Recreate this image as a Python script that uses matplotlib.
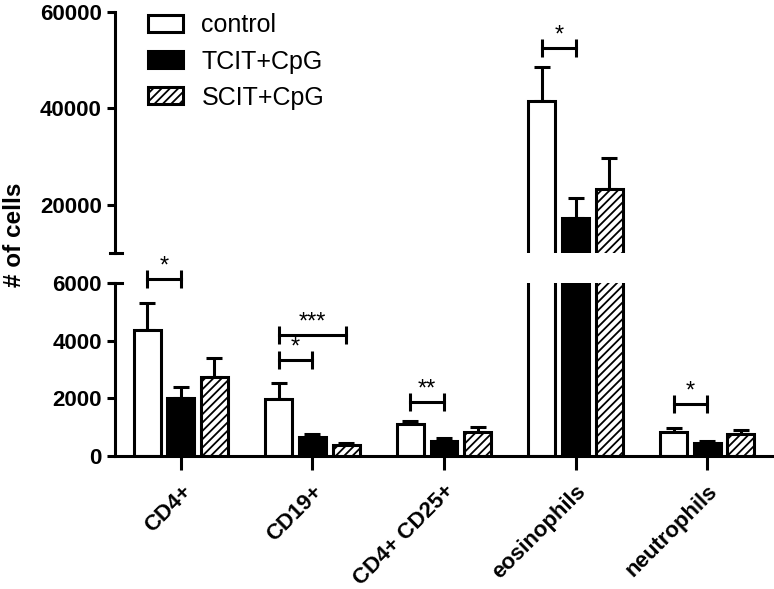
import numpy as np
import matplotlib
matplotlib.use('Agg')
import matplotlib.pyplot as plt

plt.rcParams['font.family'] = ['Liberation Sans', 'DejaVu Sans']
plt.rcParams['hatch.linewidth'] = 1.3

categories = ['CD4+', 'CD19+', 'CD4+ CD25+', 'eosinophils', 'neutrophils']
groups = ['control', 'TCIT+CpG', 'SCIT+CpG']

control = [4370, 1980, 1110, 41500, 830]
control_err = [940, 550, 100, 7100, 140]
tcit = [2010, 660, 520, 17300, 450]
tcit_err = [390, 100, 100, 4150, 70]
scit = [2740, 380, 830, 23300, 760]
scit_err = [660, 70, 170, 6450, 140]

# significance brackets: (category index, group a, group b, y value, label)
brackets = [
    (0, 0, 1, 6140, '*'),
    (1, 0, 1, 3330, '*'),
    (1, 0, 2, 4200, '***'),
    (2, 0, 1, 1870, '**'),
    (3, 0, 1, 52500, '*'),
    (4, 0, 1, 1800, '*'),
]

W, H = 774, 589
fig = plt.figure(figsize=(W / 100, H / 100), dpi=100)
left, right = 115 / W, 773 / W
ax_top = fig.add_axes([left, 1 - 253 / H, right - left, (253 - 12) / H])
ax_bot = fig.add_axes([left, 1 - 456 / H, right - left, (456 - 283) / H])

x = np.arange(len(categories))
step = 0.256
width = 0.205
lw = 2.2
series = [(control, control_err, 'white', ''),
          (tcit, tcit_err, 'black', ''),
          (scit, scit_err, 'white', '////')]

for ax in (ax_top, ax_bot):
    for k, (vals, errs, fc, hatch) in enumerate(series):
        pos = x + (k - 1) * step
        ax.bar(pos, vals, width, color=fc, edgecolor='black', linewidth=lw,
               hatch=hatch, label=groups[k], zorder=2)
        ax.errorbar(pos, vals, yerr=[np.zeros(len(errs)), errs], fmt='none',
                    ecolor='black', elinewidth=lw, capsize=5.5, capthick=lw,
                    zorder=1)
    ax.set_xlim(-0.5, 4.5)
    for s in ('top', 'right'):
        ax.spines[s].set_visible(False)
    ax.spines['left'].set_linewidth(lw)
    ax.spines['bottom'].set_linewidth(lw)
    ax.tick_params(axis='y', width=lw, length=6, labelsize=16)

ax_top.set_ylim(10000, 60000)
ax_top.set_yticks([20000, 40000, 60000])
ax_top.spines['bottom'].set_visible(False)
ax_top.set_xticks([])
for t in ax_top.get_yticklabels():
    t.set_fontweight('bold')

ax_bot.set_ylim(0, 6000)
ax_bot.set_yticks([0, 2000, 4000, 6000])
ax_bot.set_xticks(x)
ax_bot.set_xticklabels(categories, rotation=45, ha='right',
                       rotation_mode='anchor', fontsize=16, fontweight='bold')
ax_bot.tick_params(axis='x', width=lw, length=10, pad=8)
for t in ax_bot.get_yticklabels():
    t.set_fontweight('bold')

# small caps marking the axis break
fig.add_artist(plt.Line2D([110 / W, 122 / W], [1 - 253 / H] * 2,
                          color='black', lw=lw))
fig.add_artist(plt.Line2D([110 / W, 122 / W], [1 - 283 / H] * 2,
                          color='black', lw=lw))

for ci, a, b, yv, lab in brackets:
    ax = ax_top if yv > 6500 else ax_bot
    x1 = ci + (a - 1) * step
    x2 = ci + (b - 1) * step
    ax.plot([x1, x2], [yv, yv], color='black', lw=lw, marker='|',
            markersize=13, mew=lw, clip_on=False, zorder=3)
    ax.annotate(lab, (0.5 * (x1 + x2), yv), xytext=(0, 1),
                textcoords='offset points', ha='center', va='bottom',
                fontsize=17, annotation_clip=False)

fig.text(15 / W, 1 - 235 / H, '# of cells', rotation=90, ha='center',
         va='center', fontsize=17.5, fontweight='bold')

handles, labels = ax_top.get_legend_handles_labels()
handles = [h for h in handles if hasattr(h, 'patches')]
ax_top.legend(handles, groups, loc='upper left',
              bbox_to_anchor=(130 / W, 1 + 4 / H), bbox_transform=fig.transFigure,
              frameon=False, fontsize=18, handlelength=1.4, handleheight=0.64,
              labelspacing=0.48, handletextpad=0.76, borderpad=0.2)

fig.savefig('out.png', dpi=100)
